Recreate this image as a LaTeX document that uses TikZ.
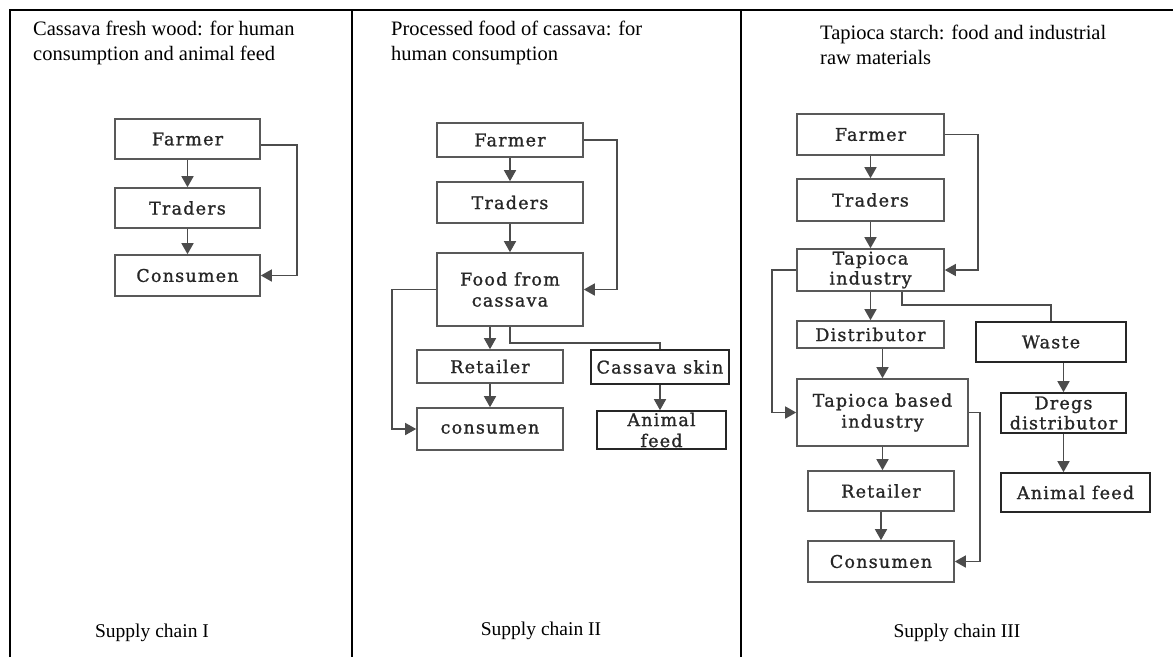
\documentclass[tikz,border=0pt]{standalone}
\usepackage{fontspec}
\setmainfont{Liberation Serif}
\newfontfamily\boxfont[LetterSpace=7,FakeBold=1.2]{DejaVu Serif}
\usetikzlibrary{arrows.meta}
\tikzset{
  box/.style={draw=black!65, line width=1.6pt, inner sep=0pt, align=center,
    text=black!85, font=\boxfont\fontsize{17.5}{21}\selectfont},
  dbox/.style={box, draw=black!85},
  conn/.style={draw=black!70, line width=1.5pt},
  arr/.style={conn, -{Triangle[width=12pt,length=11pt]}},
  frame/.style={draw=black, line width=2.8pt},
  title/.style={anchor=north west, inner sep=0pt, align=left,
    font=\fontsize{20.5}{25}\selectfont},
  foot/.style={anchor=base, inner sep=0pt, font=\fontsize{19.5}{25}\selectfont}
}
\begin{document}
\begin{tikzpicture}[x=1pt,y=-1pt]
\useasboundingbox (0,0) rectangle (1173,657);
% frame
\draw[frame] (10,657) -- (10,10) -- (1173,10);
\draw[frame] (352,10) -- (352,657);
\draw[frame] (741,10) -- (741,657);
% titles
\node[title] (ttl1) at (33,21) {Cassava fresh wood: for human\\consumption and animal feed};
\node[title] (ttl2) at (391,21) {Processed food of cassava: for\\human consumption};
\node[title] (ttl3) at (820,25) {Tapioca starch: food and industrial\\raw materials};
\node[foot] (sc1) at (152,637) {Supply chain I};
\node[foot] (sc2) at (541,635) {Supply chain II};
\node[foot] (sc3) at (957,637) {Supply chain III};
% Panel I
\node[box, minimum width=145pt, minimum height=40pt] (f1) at (187.5,139) {Farmer};
\node[box, minimum width=145pt, minimum height=40pt] (t1) at (187.5,208) {Traders};
\node[box, minimum width=145pt, minimum height=41pt] (c1) at (187.5,275.5) {Consumen};
\draw[arr] (f1) -- (t1);
\draw[arr] (t1) -- (c1);
\draw[arr] ([yshift=-6pt]f1.east) -- ++(36,0) |- (c1.east);
% Panel II
\node[box, minimum width=146pt, minimum height=34pt] (f2) at (510,140) {Farmer};
\node[box, minimum width=146pt, minimum height=41pt] (t2) at (510,202.5) {Traders};
\node[box, minimum width=146pt, minimum height=73pt] (fc2) at (510,289.5) {Food from\\cassava};
\node[box, minimum width=146pt, minimum height=33pt] (r2) at (490,366.5) {Retailer};
\node[dbox, minimum width=138pt, minimum height=34pt] (cs2) at (660,367) {Cassava skin};
\node[box, minimum width=146pt, minimum height=42pt] (cn2) at (490,429) {consumen};
\node[dbox, minimum width=129pt, minimum height=38pt, font=\boxfont\fontsize{17.5}{21}\selectfont] (af2) at (661.5,430) {Animal\\feed};
\draw[arr] (f2) -- (t2);
\draw[arr] (t2) -- (fc2);
\draw[arr] (f2.east) -- ++(33,0) |- (fc2.east);
\draw[arr] (fc2.west) -- ++(-44,0) |- (cn2.west);
\draw[arr] (r2.north |- fc2.south) -- (r2.north);
\draw[conn] (fc2.south) -- ++(0,16) -| (cs2.north);
\draw[arr] (r2) -- (cn2);
\draw[arr] (cs2.south) -- (cs2.south |- af2.north);
% Panel III
\node[box, minimum width=147pt, minimum height=41pt] (f3) at (870.5,134.5) {Farmer};
\node[box, minimum width=147pt, minimum height=42pt] (t3) at (870.5,200) {Traders};
\node[box, minimum width=147pt, minimum height=42pt, font=\boxfont\fontsize{17.5}{20}\selectfont] (ti3) at (870.5,270) {Tapioca\\industry};
\node[box, minimum width=147pt, minimum height=27pt] (d3) at (870.5,334.5) {Distributor};
\node[dbox, minimum width=150pt, minimum height=40pt] (w3) at (1051,342) {Waste};
\node[box, minimum width=171pt, minimum height=67pt] (tb3) at (882.5,412.5) {Tapioca based\\industry};
\node[box, minimum width=146pt, minimum height=40pt] (r3) at (881,491) {Retailer};
\node[box, minimum width=146pt, minimum height=41pt] (c3) at (881,561.5) {Consumen};
\node[dbox, minimum width=125pt, minimum height=40pt, font=\boxfont\fontsize{17.5}{20}\selectfont] (dd3) at (1063.5,413) {Dregs\\distributor};
\node[dbox, minimum width=149pt, minimum height=39pt] (a3) at (1075.5,492.5) {Animal feed};
\draw[arr] (f3) -- (t3);
\draw[arr] (t3) -- (ti3);
\draw[arr] (f3.east) -- ++(33,0) |- (ti3.east);
\draw[arr] (ti3.west) -- ++(-24,0) |- (tb3.west);
\draw[arr] (ti3.south) -- (d3.north);
\draw[conn] ([xshift=31.5pt]ti3.south) -- ++(0,13) -| (w3.north);
\draw[arr] (tb3.north |- d3.south) -- (tb3.north);
\draw[arr] (tb3.east) -- ++(11,0) |- (c3.east);
\draw[arr] (tb3.south) -- (tb3.south |- r3.north);
\draw[arr] (r3.south) -- (r3.south |- c3.north);
\draw[arr] (dd3.north |- w3.south) -- (dd3.north);
\draw[arr] (dd3.south) -- (dd3.south |- a3.north);
\end{tikzpicture}
\end{document}
